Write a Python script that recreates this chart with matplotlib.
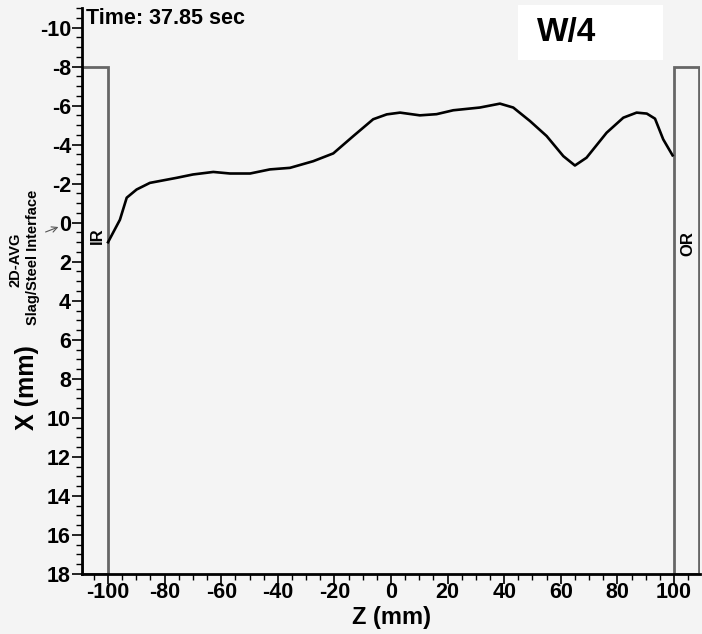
import matplotlib
matplotlib.use("Agg")
import matplotlib.pyplot as plt
from matplotlib.patches import Rectangle
from matplotlib.ticker import MultipleLocator

plt.rcParams['font.family'] = ['Liberation Sans', 'DejaVu Sans']
plt.rcParams['font.weight'] = 'bold'
plt.rcParams['axes.unicode_minus'] = False

z_mm = [-100, -95.8, -93.4, -89.9, -85.2, -75.7, -70, -62.8, -56.9, -49.8, -42.8, -35.7,
        -27.5, -20.4, -13.3, -6.3, -1.5, 3.2, 10.2, 16.1, 22, 31.4, 38.5, 43.2, 49.1,
        55, 60.9, 65, 69.1, 76.2, 82.1, 86.8, 90.4, 93.3, 96.2, 99.5]
x_mm = [1.0, -0.15, -1.28, -1.7, -2.04, -2.3, -2.47, -2.6, -2.52, -2.52, -2.73, -2.81,
        -3.15, -3.55, -4.44, -5.3, -5.55, -5.64, -5.5, -5.56, -5.76, -5.9, -6.1, -5.9, -5.21,
        -4.44, -3.41, -2.93, -3.33, -4.61, -5.38, -5.64, -5.59, -5.33, -4.27, -3.45]

x_ticks = [-100, -80, -60, -40, -20, 0, 20, 40, 60, 80, 100]
y_ticks = [-10, -8, -6, -4, -2, 0, 2, 4, 6, 8, 10, 12, 14, 16, 18]

bg = '#f4f4f4'
fig = plt.figure(figsize=(7.02, 6.34), dpi=100, facecolor=bg)
ax = fig.add_axes([82/702, 60/634, 618/702, 566/634])
ax.set_facecolor(bg)

ax.set_xlim(-109.2, 109.2)
ax.set_ylim(18, -11)

# wall boxes
ax.add_patch(Rectangle((-109.2, -8), 9.2, 26, facecolor=bg, edgecolor='#666666', lw=2, zorder=2))
ax.add_patch(Rectangle((100, -8), 9.0, 26, facecolor=bg, edgecolor='#666666', lw=2, zorder=2))

ax.plot(z_mm, x_mm, color='black', lw=1.9, zorder=3, solid_joinstyle='round')

for s in ['top', 'right']:
    ax.spines[s].set_visible(False)
for s in ['left', 'bottom']:
    ax.spines[s].set_linewidth(2)
    ax.spines[s].set_zorder(4)

ax.set_xticks(x_ticks)
ax.set_yticks(y_ticks)
ax.xaxis.set_minor_locator(MultipleLocator(5))
ax.yaxis.set_minor_locator(MultipleLocator(0.5))
ax.tick_params(which='major', direction='out', length=7, width=1.2, labelsize=15.5, pad=1)
ax.tick_params(axis='x', which='major', pad=-1)
ax.tick_params(which='minor', direction='out', length=4, width=1)
for lab in ax.get_xticklabels() + ax.get_yticklabels():
    lab.set_fontweight('bold')

ax.set_xlabel('Z (mm)', fontsize=17, fontweight='bold', labelpad=0)
ax.set_ylabel('X (mm)', fontsize=18, fontweight='bold')
ax.yaxis.set_label_coords(-0.07, 0.33)
ax.xaxis.set_label_coords(0.5, -0.056)

fig.text(86/702, 1 - 18/634, 'Time: 37.85 sec', fontsize=15.5, fontweight='bold', va='center', ha='left')
fig.patches.append(Rectangle((518/702, 1 - 60/634), 145/702, 55/634, transform=fig.transFigure,
                             facecolor='white', edgecolor='none', zorder=1))
fig.text(567/702, 1 - 33/634, 'W/4', fontsize=24, fontweight='bold', va='center', ha='center', zorder=5)

fig.text(16/702, 1 - 260/634, '2D-AVG', fontsize=10.5, fontweight='bold', rotation=90, va='center', ha='center')
fig.text(33/702, 1 - 257/634, 'Slag/Steel Interface', fontsize=10.5, fontweight='bold', rotation=90, va='center', ha='center')
fig.text(97/702, 1 - 236/634, 'IR', fontsize=12, fontweight='bold', rotation=90, va='center', ha='center')
fig.text(688/702, 1 - 244/634, 'OR', fontsize=12, fontweight='bold', rotation=90, va='center', ha='center')
ax.annotate('', xy=(61/702, 1 - 226/634), xytext=(43/702, 1 - 233/634),
            xycoords='figure fraction', textcoords='figure fraction',
            arrowprops=dict(arrowstyle='->', color='#555555', lw=0.8))

fig.savefig('out.png', dpi=100, facecolor=bg)
